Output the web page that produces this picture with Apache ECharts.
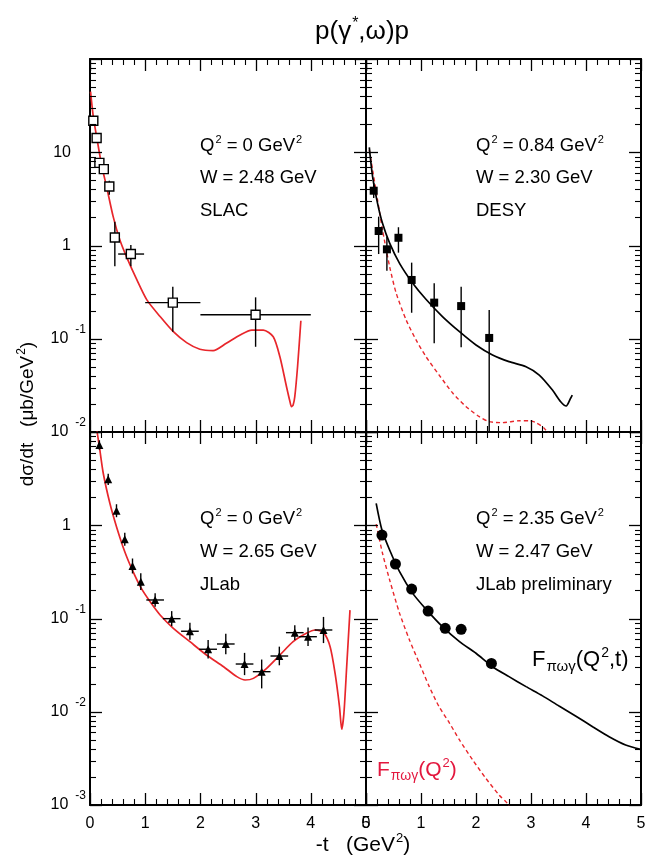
<!DOCTYPE html>
<html>
<head>
<meta charset="utf-8">
<script src="https://cdn.jsdelivr.net/npm/echarts@6/dist/echarts.min.js"></script>
<style>html,body{margin:0;padding:0;background:#fff;}#c{width:652px;height:857px;}</style>
</head>
<body>
<div id="c"></div>
<script>
// ---------------- DATA ----------------
// Top-left: SLAC, Q2 = 0, W = 2.48 GeV
const slacT    = [0.06, 0.12, 0.17, 0.25, 0.35, 0.45, 0.74, 1.5, 3.0];
const slacV    = [21.8, 14.2, 7.7, 6.6, 4.3, 1.22, 0.81, 0.244, 0.181];
const slacYLo  = [19.8, 13.0, 6.9, 6.0, 3.5, 0.60, 0.60, 0.119, 0.082];
const slacYHi  = [24.0, 15.6, 8.6, 7.3, 4.95, 1.80, 1.01, 0.36, 0.278];
const slacXLo  = [0.06, 0.12, 0.17, 0.25, 0.35, 0.45, 0.51, 1.0, 2.0];
const slacXHi  = [0.06, 0.12, 0.17, 0.25, 0.35, 0.45, 0.98, 2.0, 4.0];
const slacCurveT = [0.01, 0.06, 0.12, 0.21, 0.30, 0.42, 0.54, 0.66, 0.85, 1.03, 1.27, 1.51, 1.75, 1.99, 2.23, 2.47, 2.72, 2.93, 3.14, 3.32, 3.44, 3.56, 3.62, 3.65, 3.68, 3.71, 3.76, 3.82];
const slacCurveV = [44.7, 24.0, 14.7, 7.3, 4.28, 2.04, 1.15, 0.76, 0.427, 0.261, 0.173, 0.119, 0.0908, 0.0771, 0.0745, 0.0893, 0.110, 0.124, 0.124, 0.105, 0.0641, 0.0306, 0.0215, 0.0187, 0.0195, 0.0239, 0.0501, 0.156];

// Top-right: DESY, Q2 = 0.84, W = 2.30 GeV
const desyT   = [0.14, 0.23, 0.38, 0.59, 0.83, 1.24, 1.73, 2.24];
const desyV   = [3.87, 1.43, 0.91, 1.21, 0.427, 0.244, 0.224, 0.102];
const desyYLo = [3.24, 0.81, 0.537, 0.838, 0.19, 0.0893, 0.0809, 0.005];
const desyYHi = [4.68, 2.04, 1.24, 1.57, 0.655, 0.394, 0.361, 0.203];
const desyFullT = [0.06, 0.12, 0.21, 0.30, 0.43, 0.61, 0.85, 1.09, 1.39, 1.70, 2.00, 2.30, 2.60, 2.91, 3.15, 3.39, 3.54, 3.64, 3.72, 3.75];
const desyFullV = [11.3, 5.47, 2.83, 1.73, 1.06, 0.644, 0.394, 0.265, 0.173, 0.119, 0.0857, 0.067, 0.0568, 0.0501, 0.0408, 0.0282, 0.0211, 0.019, 0.023, 0.0249];
const desyFormT = [0.06, 0.12, 0.21, 0.30, 0.43, 0.55, 0.73, 0.91, 1.09, 1.33, 1.58, 1.82, 2.06, 2.24, 2.48, 2.79, 2.97, 3.09, 3.24, 3.35];
const desyFormV = [10.6, 6.46, 3.08, 1.47, 0.593, 0.307, 0.159, 0.0971, 0.0643, 0.0408, 0.026, 0.0187, 0.0146, 0.0129, 0.0126, 0.0132, 0.0132, 0.0126, 0.011, 0.0089];

// Bottom-left: JLab, Q2 = 0, W = 2.65 GeV
const jlabT   = [0.17, 0.33, 0.48, 0.63, 0.77, 0.92, 1.18, 1.48, 1.81, 2.14, 2.46, 2.80, 3.11, 3.43, 3.71, 3.95, 4.23];
const jlabV   = [7.26, 3.11, 1.43, 0.706, 0.366, 0.248, 0.158, 0.0996, 0.073, 0.0468, 0.0533, 0.0325, 0.0269, 0.0396, 0.0705, 0.0638, 0.0753];
const jlabYLo = [6.47, 2.71, 1.22, 0.601, 0.304, 0.202, 0.134, 0.0829, 0.0593, 0.0372, 0.0413, 0.0247, 0.0178, 0.0315, 0.0587, 0.0507, 0.0545];
const jlabYHi = [8.15, 3.57, 1.68, 0.829, 0.44, 0.305, 0.186, 0.12, 0.0898, 0.0589, 0.0686, 0.0428, 0.0363, 0.0499, 0.0847, 0.0803, 0.104];
const jlabXLo = [0.17, 0.33, 0.48, 0.63, 0.77, 0.92, 1.02, 1.32, 1.65, 1.98, 2.30, 2.64, 2.95, 3.27, 3.55, 3.79, 4.07];
const jlabXHi = [0.17, 0.33, 0.48, 0.63, 0.77, 0.92, 1.34, 1.64, 1.97, 2.30, 2.62, 2.96, 3.27, 3.59, 3.87, 4.11, 4.39];
const jlabCurveT = [0.12, 0.13, 0.17, 0.24, 0.36, 0.48, 0.63, 0.78, 0.93, 1.09, 1.27, 1.51, 1.81, 2.11, 2.42, 2.66, 2.81, 2.96, 3.20, 3.44, 3.68, 3.92, 4.08, 4.23, 4.35, 4.44, 4.52, 4.56, 4.60, 4.65, 4.71];
const jlabCurveV = [11.5, 10.0, 6.95, 3.61, 1.72, 0.966, 0.52, 0.318, 0.21, 0.151, 0.109, 0.0785, 0.0564, 0.0406, 0.0304, 0.0238, 0.0219, 0.0228, 0.0292, 0.0406, 0.0564, 0.0693, 0.0753, 0.0705, 0.0499, 0.0258, 0.0113, 0.00649, 0.00962, 0.0304, 0.123];

// Bottom-right: JLab preliminary, Q2 = 2.35, W = 2.47 GeV
const prelT   = [0.29, 0.535, 0.83, 1.13, 1.44, 1.73, 2.28];
const prelV   = [0.785, 0.384, 0.207, 0.120, 0.0785, 0.0766, 0.033];
const prelYLo = [0.72, 0.35, 0.19, 0.11, 0.071, 0.069, 0.029];
const prelYHi = [0.86, 0.42, 0.226, 0.131, 0.087, 0.085, 0.037];
const prelFullT = [0.185, 0.29, 0.43, 0.61, 0.85, 1.09, 1.39, 1.70, 2.00, 2.30, 2.60, 2.91, 3.21, 3.51, 3.81, 4.12, 4.42, 4.72, 4.99];
const prelFullV = [1.72, 0.889, 0.543, 0.318, 0.186, 0.126, 0.0817, 0.0564, 0.0424, 0.0304, 0.0238, 0.0186, 0.0148, 0.0115, 0.009, 0.00692, 0.0054, 0.0044, 0.00395];
const prelFormT = [0.185, 0.30, 0.43, 0.61, 0.79, 0.97, 1.15, 1.33, 1.52, 1.70, 1.94, 2.18, 2.42, 2.57, 2.62];
const prelFormV = [1.03, 0.501, 0.259, 0.114, 0.0589, 0.0331, 0.0186, 0.0113, 0.00752, 0.00498, 0.00304, 0.00193, 0.00128, 0.00104, 0.00089];

// Axis ticks / labels
const xTickLabels = ['0', '1', '2', '3', '4', '5'];
const xMajorTicks = [0, 1, 2, 3, 4, 5];
const xMinorTicks = [0.2, 0.4, 0.6, 0.8, 1.2, 1.4, 1.6, 1.8, 2.2, 2.4, 2.6, 2.8, 3.2, 3.4, 3.6, 3.8, 4.2, 4.4, 4.6, 4.8];
const topDecades = [0.01, 0.1, 1, 10, 100];
const bottomDecades = [0.001, 0.01, 0.1, 1, 10];
const minorMultipliers = [2, 3, 4, 5, 6, 7, 8, 9];
const topYExponents = [1, 0, -1, -2];      // labelled decades, top row
const bottomYExponents = [0, -1, -2, -3];  // labelled decades, bottom row

// ---------------- CHART ----------------
const FONT = '"Liberation Sans", Arial, Helvetica, sans-serif';
const RED = '#e8262b';
const RED_TXT = '#e3173e';

const grids = [
  {left: 90,  top: 59,  width: 276, height: 373},
  {left: 366, top: 59,  width: 275, height: 373},
  {left: 90,  top: 432, width: 276, height: 373},
  {left: 366, top: 432, width: 275, height: 373}
];
const yRanges = [[0.01, 100], [0.01, 100], [0.001, 10], [0.001, 10]];
const gridDecades = [topDecades, topDecades, bottomDecades, bottomDecades];

function xAxisCfg(g, pos, showLabel) {
  const ax = {
    type: 'value', gridIndex: g, position: pos, min: 0, max: 5, interval: 1,
    axisLine: {show: true, onZero: false, lineStyle: {color: '#000', width: 2}},
    axisTick: {show: false}, minorTick: {show: false},
    splitLine: {show: false},
    axisLabel: {show: false}
  };
  if (showLabel) {
    ax.axisLabel = {
      show: true, margin: 11, color: '#000', fontSize: 16, fontFamily: FONT,
      formatter: v => xTickLabels[Math.round(v)]
    };
  }
  return ax;
}
function yAxisCfg(g, pos, exps) {
  const ax = {
    type: 'log', logBase: 10, gridIndex: g, position: pos, min: yRanges[g][0], max: yRanges[g][1],
    axisLine: {show: true, onZero: false, lineStyle: {color: '#000', width: 2}},
    axisTick: {show: false}, minorTick: {show: false},
    splitLine: {show: false},
    axisLabel: {show: false}
  };
  if (exps) {
    ax.axisLabel = {
      show: true, margin: 4, color: '#000', fontFamily: FONT,
      formatter: function (v) {
        const e = Math.round(Math.log10(v));
        if (exps.indexOf(e) < 0) return '';
        if (e === 0) return '{p|1}';
        if (e === 1) return '{p|10}';
        return '{m|10}{e|' + e + '}';
      },
      rich: {
        p: {fontSize: 16, fontFamily: FONT, color: '#000', padding: [0, 15, 0, 0]},
        m: {fontSize: 16, fontFamily: FONT, color: '#000'},
        e: {fontSize: 12, fontFamily: FONT, color: '#000', padding: [0, 0, 18, 7]}
      }
    };
  }
  return ax;
}

const xAxes = [], yAxes = [];
for (let g = 0; g < 4; g++) {
  xAxes.push(xAxisCfg(g, 'bottom', g >= 2));
  xAxes.push(xAxisCfg(g, 'top', false));
}
yAxes.push(yAxisCfg(0, 'left', topYExponents));
yAxes.push(yAxisCfg(0, 'right', null));
yAxes.push(yAxisCfg(1, 'left', null));
yAxes.push(yAxisCfg(1, 'right', null));
yAxes.push(yAxisCfg(2, 'left', bottomYExponents));
yAxes.push(yAxisCfg(2, 'right', null));
yAxes.push(yAxisCfg(3, 'left', null));
yAxes.push(yAxisCfg(3, 'right', null));

function zip(a, b) { return a.map((x, i) => [x, b[i]]); }

function lineSeries(g, t, v, color, dashed) {
  return {
    type: 'line', xAxisIndex: 2 * g, yAxisIndex: 2 * g, data: zip(t, v),
    showSymbol: false, symbol: 'none', clip: true, smooth: 0.25, z: 2,
    lineStyle: {color: color, width: dashed ? 1.4 : 1.7, type: dashed ? [4, 3] : 'solid'}
  };
}
function errSeries(g, t, v, xlo, xhi, ylo, yhi) {
  return {
    type: 'custom', xAxisIndex: 2 * g, yAxisIndex: 2 * g, clip: true, z: 3,
    data: t.map((x, i) => [x, v[i], xlo ? xlo[i] : x, xhi ? xhi[i] : x, ylo[i], yhi[i]]),
    encode: {x: 0, y: 1},
    renderItem: function (params, api) {
      const t0 = api.value(0), v0 = api.value(1);
      const xl = api.value(2), xh = api.value(3), yl = api.value(4), yh = api.value(5);
      const a = api.coord([t0, yl]), b = api.coord([t0, yh]);
      const ch = [{type: 'line', shape: {x1: a[0], y1: a[1], x2: b[0], y2: b[1]}, style: {stroke: '#000', lineWidth: 1.4}}];
      if (xh > xl) {
        const c = api.coord([xl, v0]), d = api.coord([xh, v0]);
        ch.push({type: 'line', shape: {x1: c[0], y1: c[1], x2: d[0], y2: d[1]}, style: {stroke: '#000', lineWidth: 1.4}});
      }
      return {type: 'group', children: ch};
    }
  };
}
function scatterSeries(g, t, v, symbol, size, open) {
  return {
    type: 'scatter', xAxisIndex: 2 * g, yAxisIndex: 2 * g, data: zip(t, v), z: 4,
    symbol: symbol, symbolSize: size, clip: true,
    itemStyle: open ? {color: '#fff', borderColor: '#000', borderWidth: 1.4, opacity: 1} : {color: '#000', opacity: 1}
  };
}

const series = [
  lineSeries(0, slacCurveT, slacCurveV, RED, false),
  errSeries(0, slacT, slacV, slacXLo, slacXHi, slacYLo, slacYHi),
  scatterSeries(0, slacT, slacV, 'rect', 9, true),

  lineSeries(1, desyFormT, desyFormV, RED, true),
  lineSeries(1, desyFullT, desyFullV, '#000', false),
  errSeries(1, desyT, desyV, null, null, desyYLo, desyYHi),
  scatterSeries(1, desyT, desyV, 'rect', 8, false),

  lineSeries(2, jlabCurveT, jlabCurveV, RED, false),
  errSeries(2, jlabT, jlabV, jlabXLo, jlabXHi, jlabYLo, jlabYHi),
  scatterSeries(2, jlabT, jlabV, 'triangle', 8, false),

  lineSeries(3, prelFormT, prelFormV, RED, true),
  lineSeries(3, prelFullT, prelFullV, '#000', false),
  errSeries(3, prelT, prelV, null, null, prelYLo, prelYHi),
  scatterSeries(3, prelT, prelV, 'circle', 11, false)
];

function T(x, y, text, size, color, align, rot) {
  const rich = {
    n: {fontSize: size, fontFamily: FONT, fill: color},
    s: {fontSize: Math.round(size * 0.62), fontFamily: FONT, fill: color, padding: [0, 0, Math.round(size * 0.65), 1]},
    d: {fontSize: Math.round(size * 0.66), fontFamily: FONT, fill: color, padding: [Math.round(size * 0.6), 0, 0, 1]}
  };
  const el = {
    type: 'text', x: x, y: y, z: 10,
    style: {text: text, fontSize: size, fontFamily: FONT, fill: color, align: align || 'left', verticalAlign: 'middle', rich: rich}
  };
  if (rot) el.rotation = rot;
  return el;
}

const graphics = [
  T(362, 32, '{n|p(γ}{s|*}{n|,ω)p}', 26, '#000', 'center'),
  T(200, 146, '{n|Q}{s|2}{n| = 0 GeV}{s|2}', 18.5, '#000'),
  T(200, 178, '{n|W = 2.48 GeV}', 18.5, '#000'),
  T(200, 211, '{n|SLAC}', 18.5, '#000'),
  T(476, 146, '{n|Q}{s|2}{n| = 0.84 GeV}{s|2}', 18.5, '#000'),
  T(476, 178, '{n|W = 2.30 GeV}', 18.5, '#000'),
  T(476, 211, '{n|DESY}', 18.5, '#000'),
  T(200, 519, '{n|Q}{s|2}{n| = 0 GeV}{s|2}', 18.5, '#000'),
  T(200, 552, '{n|W = 2.65 GeV}', 18.5, '#000'),
  T(200, 585, '{n|JLab}', 18.5, '#000'),
  T(476, 519, '{n|Q}{s|2}{n| = 2.35 GeV}{s|2}', 18.5, '#000'),
  T(476, 552, '{n|W = 2.47 GeV}', 18.5, '#000'),
  T(476, 585, '{n|JLab preliminary}', 18.5, '#000'),
  T(532, 660, '{n|F}{d|πωγ}{n|(Q}{s|2}{n|,t)}', 22, '#000'),
  T(377, 770, '{n|F}{d|πωγ}{n|(Q}{s|2}{n|)}', 21, RED_TXT),
  T(363, 845, '{n|-t   (GeV}{s|2}{n|)}', 21, '#000', 'center'),
  T(28, 414, '{n|dσ/dt   (μb/GeV}{s|2}{n|)}', 19, '#000', 'center', Math.PI / 2)
];

const chart = echarts.init(document.getElementById('c'));
chart.setOption({
  animation: false,
  grid: grids,
  xAxis: xAxes,
  yAxis: yAxes,
  series: series,
  graphic: graphics
});

// Frame ticks on all four sides, positioned by converting tick values through each panel's axes
function tickLine(x1, y1, x2, y2, w) {
  return {type: 'line', silent: true, z: 6, shape: {x1: x1, y1: y1, x2: x2, y2: y2}, style: {stroke: '#000', lineWidth: w}};
}
const tickEls = [];
for (let g = 0; g < 4; g++) {
  const xi = {xAxisIndex: 2 * g}, yi = {yAxisIndex: 2 * g};
  const left = chart.convertToPixel(xi, 0), right = chart.convertToPixel(xi, 5);
  const bottom = chart.convertToPixel(yi, yRanges[g][0]), top = chart.convertToPixel(yi, yRanges[g][1]);
  const addX = (v, len, w) => {
    const px = Math.round(chart.convertToPixel(xi, v)) + 0.5;
    tickEls.push(tickLine(px, bottom, px, bottom - len, w));
    tickEls.push(tickLine(px, top, px, top + len, w));
  };
  const addY = (v, len, w) => {
    const py = Math.round(chart.convertToPixel(yi, v)) + 0.5;
    tickEls.push(tickLine(left, py, left + len, py, w));
    tickEls.push(tickLine(right, py, right - len, py, w));
  };
  xMajorTicks.forEach(v => addX(v, 12, 1.3));
  xMinorTicks.forEach(v => addX(v, 6, 1.1));
  const dec = gridDecades[g];
  dec.forEach(d => addY(d, 12, 1.3));
  dec.slice(0, -1).forEach(d => minorMultipliers.forEach(m => addY(d * m, 6, 1.1)));
}
chart.setOption({graphic: graphics.concat(tickEls)});
</script>
</body>
</html>
